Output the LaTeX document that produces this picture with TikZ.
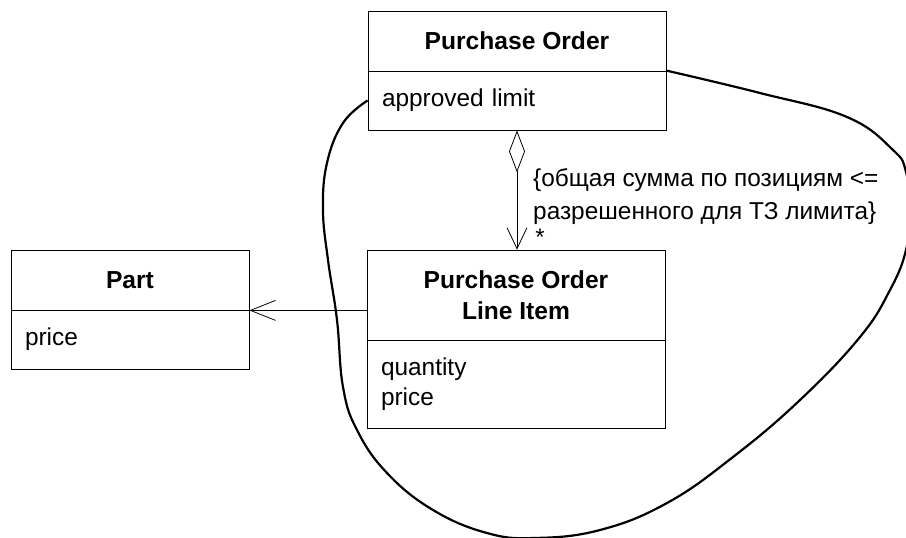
\documentclass[tikz,border=0pt]{standalone}
\usepackage{fontspec}
\setmainfont{Liberation Sans}
\usetikzlibrary{arrows.meta}

\begin{document}
\begin{tikzpicture}
[x=1pt, y=1pt, every node/.style={inner sep=0pt},
 title/.style={draw=black, line width=0.8pt, align=center, font=\fontsize{24.6}{31}\selectfont\bfseries},
 attr/.style={draw=black, line width=0.8pt, align=left, inner xsep=14pt, font=\fontsize{24.4}{30}\selectfont},
 link/.style={line width=0.8pt, color=black}]
\useasboundingbox (0,0) rectangle (906,-538);
\node (po) [title, minimum width=298pt, minimum height=60pt] at (517,-41) {Purchase Order};
\node (poa) [attr, text width=270pt, minimum height=59pt] at (517,-100.5) {approved limit};
\node (li) [title, minimum width=298pt, minimum height=90pt] at (516,-295) {Purchase Order\\Line Item};
\node (lia) [attr, text width=270pt, minimum height=88pt] at (516,-384) {quantity\\price};
\node (pt) [title, minimum width=238pt, minimum height=60pt] at (130,-280) {Part};
\node (pta) [attr, text width=210pt, minimum height=59pt] at (130,-339.5) {price};
\draw [link, {Diamond[open, length=42pt, width=16pt]}-{Straight Barb[length=21pt, width=20pt]}] (poa.south) to (poa.south |- li.north);
\draw [link, -{Straight Barb[length=25pt, width=20pt]}] (li.west |- pt.south) to (pt.south east);
\node (mult) [anchor=base, font=\fontsize{24}{30}\selectfont] at (540,-245) {*};
\node (rule) [anchor=west, align=left, font=\fontsize{24.4}{33}\selectfont] at (533,-197) {\{общая сумма по позициям <=\\разрешенного для ТЗ лимита\}};
% constraint scope
\draw [line width=2.2pt, color=black] plot [smooth, tension=0.7] coordinates {(poa.west) (343,-123) (327,-163) (323,-210) (328,-260) (337,-320) (343,-387) (357,-430) (387,-473) (433,-510) (487,-533) (535,-538) (600,-530) (667,-503) (733,-457) (800,-400) (860,-337) (890,-290) (906,-250) (910,-210) (906,-172) (893,-150) (847,-117) (760,-93) (poa.north east)};
\end{tikzpicture}
\end{document}
